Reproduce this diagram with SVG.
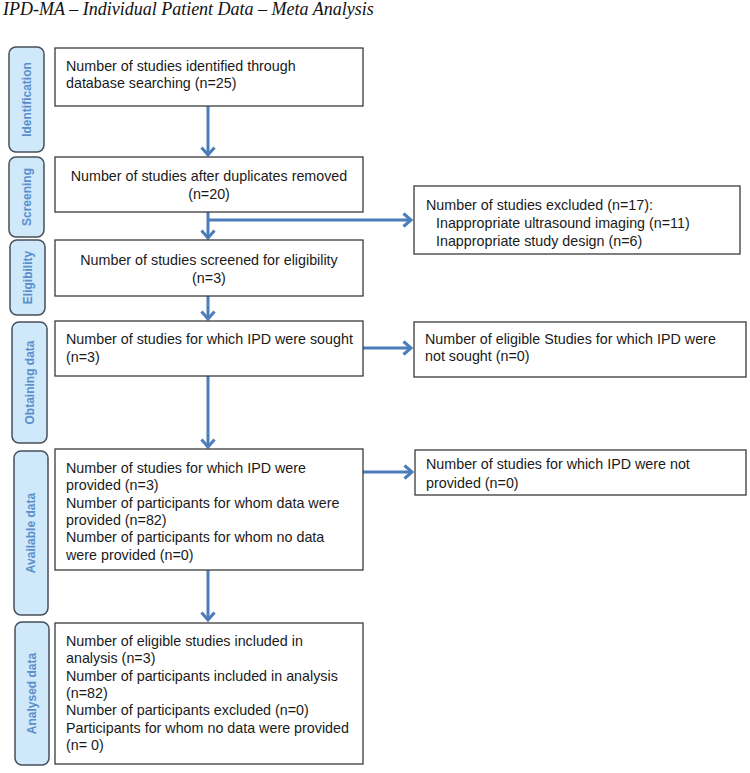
<svg xmlns="http://www.w3.org/2000/svg" width="750" height="773" viewBox="0 0 750 773">
<style>
.box{fill:#fff;stroke:#3a3a3a;stroke-width:1.3}
.lab{fill:#cfe8fa;stroke:#474f5a;stroke-width:1.5}
.lt{font-family:"Liberation Sans",Arial,sans-serif;font-size:12px;font-weight:bold;fill:#5a8fcc;text-anchor:middle}
.t{font-family:"Liberation Sans",Arial,sans-serif;font-size:14.3px;fill:#1a1a1a}
.c{text-anchor:middle}
.title{font-family:"Liberation Serif","Times New Roman",serif;font-style:italic;font-size:18px;fill:#111}
.conn{fill:none;stroke:#4a7db9;stroke-width:3}
</style>
<defs>
<marker id="ah" markerUnits="userSpaceOnUse" markerWidth="18" markerHeight="18" refX="10" refY="9" orient="auto">
<path d="M2.5,2.5 L10,9 L2.5,15.5" fill="none" stroke="#4a7db9" stroke-width="3"/>
</marker>
</defs>
<rect width="750" height="773" fill="#fff"/>
<text class="title" x="3" y="15">IPD-MA – Individual Patient Data – Meta Analysis</text>

<g id="label-identification"><rect class="lab" x="9" y="47" width="35" height="105" rx="7"/><text class="lt" transform="translate(30.5,99.5) rotate(-90)">Identification</text></g>
<g id="label-screening"><rect class="lab" x="9" y="157" width="35" height="80" rx="7"/><text class="lt" transform="translate(30.5,197) rotate(-90)">Screening</text></g>
<g id="label-eligibility"><rect class="lab" x="10" y="240" width="35" height="75" rx="7"/><text class="lt" transform="translate(31.5,277.5) rotate(-90)">Eligibility</text></g>
<g id="label-obtaining"><rect class="lab" x="12" y="322" width="35" height="121" rx="7"/><text class="lt" transform="translate(33.5,382.5) rotate(-90)">Obtaining data</text></g>
<g id="label-available"><rect class="lab" x="14" y="451" width="34" height="164" rx="7"/><text class="lt" transform="translate(35,533) rotate(-90)">Available data</text></g>
<g id="label-analysed"><rect class="lab" x="15" y="622" width="34" height="143" rx="7"/><text class="lt" transform="translate(36,693.5) rotate(-90)">Analysed data</text></g>

<g id="connectors">
<path class="conn" d="M208,106 V155" marker-end="url(#ah)"/>
<path class="conn" d="M208,212 V238" marker-end="url(#ah)"/>
<path class="conn" d="M208,220 H411" marker-end="url(#ah)"/>
<path class="conn" d="M208,296 V319" marker-end="url(#ah)"/>
<path class="conn" d="M363,348 H411" marker-end="url(#ah)"/>
<path class="conn" d="M208,376 V447" marker-end="url(#ah)"/>
<path class="conn" d="M363,472 H412" marker-end="url(#ah)"/>
<path class="conn" d="M208,570 V620" marker-end="url(#ah)"/>
</g>

<g id="box-identified"><rect class="box" x="55" y="48" width="308" height="58"/>
<text class="t" x="66" y="71">Number of studies identified through</text>
<text class="t" x="66" y="88">database searching (n=25)</text></g>

<g id="box-duplicates"><rect class="box" x="55" y="157" width="308" height="55"/>
<text class="t c" x="209" y="181">Number of studies after duplicates removed</text>
<text class="t c" x="209" y="199">(n=20)</text></g>

<g id="box-excluded"><rect class="box" x="414" y="186" width="326" height="68"/>
<text class="t" x="426" y="210">Number of studies excluded (n=17):</text>
<text class="t" x="436" y="228">Inappropriate ultrasound imaging (n=11)</text>
<text class="t" x="436" y="246">Inappropriate study design (n=6)</text></g>

<g id="box-screened"><rect class="box" x="55" y="240" width="308" height="56"/>
<text class="t c" x="209" y="265">Number of studies screened for eligibility</text>
<text class="t c" x="209" y="283">(n=3)</text></g>

<g id="box-sought"><rect class="box" x="55" y="321" width="308" height="55"/>
<text class="t" x="66" y="344">Number of studies for which IPD were sought</text>
<text class="t" x="66" y="362">(n=3)</text></g>

<g id="box-not-sought"><rect class="box" x="414" y="322" width="332" height="55"/>
<text class="t" x="425" y="344">Number of eligible Studies for which IPD were</text>
<text class="t" x="425" y="361">not sought (n=0)</text></g>

<g id="box-provided"><rect class="box" x="55" y="449" width="308" height="121"/>
<text class="t" x="66" y="473">Number of studies for which IPD were</text>
<text class="t" x="66" y="490.3">provided (n=3)</text>
<text class="t" x="66" y="507.6">Number of participants for whom data were</text>
<text class="t" x="66" y="524.9">provided (n=82)</text>
<text class="t" x="66" y="542.2">Number of participants for whom no data</text>
<text class="t" x="66" y="559.5">were provided (n=0)</text></g>

<g id="box-not-provided"><rect class="box" x="415" y="450" width="331" height="45"/>
<text class="t" x="426" y="469">Number of studies for which IPD were not</text>
<text class="t" x="426" y="488">provided (n=0)</text></g>

<g id="box-analysed"><rect class="box" x="55" y="623" width="308" height="141"/>
<text class="t" x="66" y="646">Number of eligible studies included in</text>
<text class="t" x="66" y="663.3">analysis (n=3)</text>
<text class="t" x="66" y="680.6">Number of participants included in analysis</text>
<text class="t" x="66" y="697.9">(n=82)</text>
<text class="t" x="66" y="715.2">Number of participants excluded (n=0)</text>
<text class="t" x="66" y="732.5">Participants for whom no data were provided</text>
<text class="t" x="66" y="749.8">(n= 0)</text></g>
</svg>
